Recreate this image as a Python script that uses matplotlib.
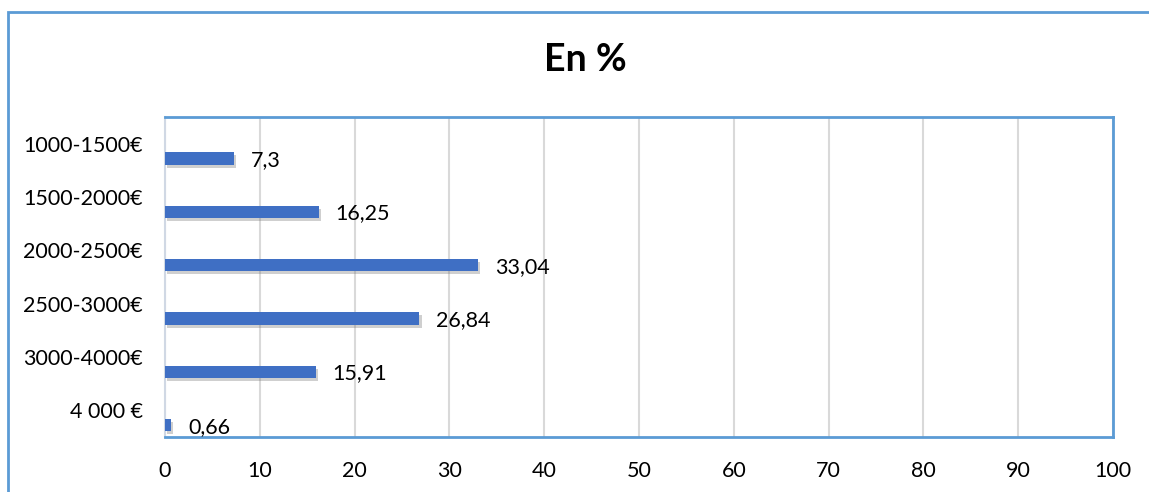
import matplotlib.pyplot as plt
import matplotlib.patheffects as pe
from matplotlib.patches import Rectangle

# data
categories = ['1000-1500€', '1500-2000€', '2000-2500€', '2500-3000€', '3000-4000€', '4 000 €']
values = [7.3, 16.25, 33.04, 26.84, 15.91, 0.66]
value_labels = ['7,3', '16,25', '33,04', '26,84', '15,91', '0,66']
x_ticks = [0, 10, 20, 30, 40, 50, 60, 70, 80, 90, 100]

plt.rcParams['font.family'] = ['Lato', 'DejaVu Sans']

BLUE_BORDER = '#5B9BD5'
BAR_COLOR = '#3F6FC4'

fig = plt.figure(figsize=(11.49, 4.92), dpi=100)

# outer chart frame (runs off the right and bottom edge)
fig.patches.append(Rectangle((8 / 1149, -0.1), 1.2, 1 - 12 / 492 + 0.1,
                             transform=fig.transFigure, fill=False,
                             edgecolor=BLUE_BORDER, linewidth=2))

ax = fig.add_axes([165 / 1149, 1 - 437 / 492, 948 / 1149, 320 / 492])

pos = list(range(len(categories)))
bar_pos = [p + 0.28 for p in pos]
bars = ax.barh(bar_pos, values, height=0.23, color=BAR_COLOR, zorder=3)
for b in bars:
    b.set_path_effects([pe.SimplePatchShadow(offset=(1.5, -2), shadow_rgbFace='#777777', alpha=0.35),
                        pe.Normal()])

for y, v, lab in zip(bar_pos, values, value_labels):
    ax.annotate(lab, (v, y), xytext=(12, -1), textcoords='offset points',
                ha='left', va='center', fontsize=15.5, color='black')

ax.set_xlim(0, 100)
ax.set_ylim(5.5, -0.5)
ax.set_xticks(x_ticks)
ax.set_yticks(pos)
ax.set_yticklabels(categories)
ax.tick_params(axis='both', length=0, labelsize=15.5, colors='black')
ax.tick_params(axis='y', pad=16)
ax.tick_params(axis='x', pad=17)

ax.grid(axis='x', color='#D9D9D9', linewidth=1.5, zorder=0)
ax.set_axisbelow(True)

for side in ['top', 'right', 'bottom']:
    ax.spines[side].set_color(BLUE_BORDER)
    ax.spines[side].set_linewidth(2)
ax.spines['left'].set_color('#D0D8E4')
ax.spines['left'].set_linewidth(1.5)

fig.text(585 / 1149, 1 - 60 / 492, 'En %', ha='center', va='center',
         fontsize=27, fontweight='bold', color='black')

fig.savefig('out.png', dpi=100)
